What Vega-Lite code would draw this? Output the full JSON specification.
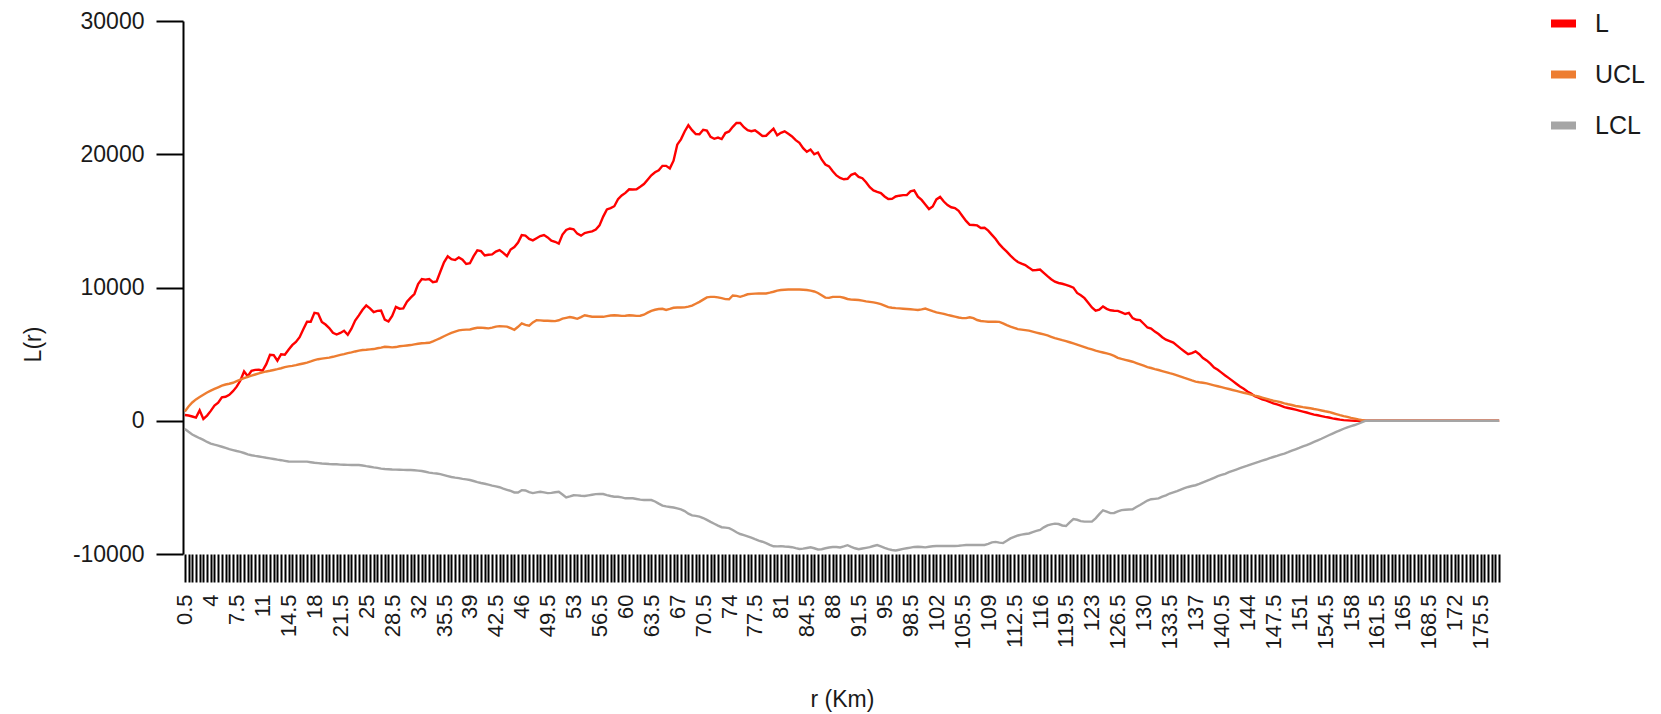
{
"$schema":"https://vega.github.io/schema/vega-lite/v6.json",
"width":1318,"height":533,
"autosize":{"type":"none"},
"padding":{"left":183,"top":21,"right":160,"bottom":160},
"background":"white",
"config":{"view":{"stroke":null},"font":"Liberation Sans"},
"data":{"values":[
{"r":0.5,"L":430,"UCL":700,"LCL":-620},{"r":1,"L":390,"UCL":1070,"LCL":-830},{"r":1.5,"L":320,"UCL":1370,"LCL":-1030},{"r":2,"L":240,"UCL":1600,"LCL":-1170},{"r":2.5,"L":780,"UCL":1780,"LCL":-1310},{"r":3,"L":140,"UCL":1950,"LCL":-1440},{"r":3.5,"L":390,"UCL":2120,"LCL":-1590},{"r":4,"L":740,"UCL":2260,"LCL":-1710},{"r":4.5,"L":1140,"UCL":2390,"LCL":-1790},{"r":5,"L":1350,"UCL":2510,"LCL":-1860},
{"r":5.5,"L":1760,"UCL":2630,"LCL":-1950},{"r":6,"L":1800,"UCL":2720,"LCL":-2040},{"r":6.5,"L":1950,"UCL":2780,"LCL":-2130},{"r":7,"L":2220,"UCL":2850,"LCL":-2200},{"r":7.5,"L":2560,"UCL":2970,"LCL":-2270},{"r":8,"L":3020,"UCL":3080,"LCL":-2330},{"r":8.5,"L":3700,"UCL":3190,"LCL":-2420},{"r":9,"L":3340,"UCL":3290,"LCL":-2520},{"r":9.5,"L":3750,"UCL":3380,"LCL":-2590},{"r":10,"L":3820,"UCL":3470,"LCL":-2640},
{"r":10.5,"L":3830,"UCL":3550,"LCL":-2680},{"r":11,"L":3760,"UCL":3630,"LCL":-2730},{"r":11.5,"L":4250,"UCL":3700,"LCL":-2780},{"r":12,"L":4950,"UCL":3750,"LCL":-2820},{"r":12.5,"L":4930,"UCL":3810,"LCL":-2870},{"r":13,"L":4510,"UCL":3870,"LCL":-2920},{"r":13.5,"L":4990,"UCL":3940,"LCL":-2960},{"r":14,"L":4960,"UCL":4020,"LCL":-3010},{"r":14.5,"L":5330,"UCL":4080,"LCL":-3060},{"r":15,"L":5670,"UCL":4120,"LCL":-3070},
{"r":15.5,"L":5910,"UCL":4170,"LCL":-3070},{"r":16,"L":6270,"UCL":4240,"LCL":-3070},{"r":16.5,"L":6860,"UCL":4300,"LCL":-3070},{"r":17,"L":7430,"UCL":4360,"LCL":-3070},{"r":17.5,"L":7430,"UCL":4450,"LCL":-3110},{"r":18,"L":8100,"UCL":4550,"LCL":-3150},{"r":18.5,"L":8050,"UCL":4620,"LCL":-3180},{"r":19,"L":7410,"UCL":4660,"LCL":-3210},{"r":19.5,"L":7220,"UCL":4700,"LCL":-3230},{"r":20,"L":6960,"UCL":4740,"LCL":-3250},
{"r":20.5,"L":6600,"UCL":4800,"LCL":-3260},{"r":21,"L":6470,"UCL":4870,"LCL":-3270},{"r":21.5,"L":6590,"UCL":4940,"LCL":-3290},{"r":22,"L":6750,"UCL":5000,"LCL":-3300},{"r":22.5,"L":6450,"UCL":5070,"LCL":-3310},{"r":23,"L":6910,"UCL":5130,"LCL":-3320},{"r":23.5,"L":7520,"UCL":5200,"LCL":-3320},{"r":24,"L":7910,"UCL":5260,"LCL":-3320},{"r":24.5,"L":8330,"UCL":5310,"LCL":-3360},{"r":25,"L":8650,"UCL":5330,"LCL":-3410},
{"r":25.5,"L":8440,"UCL":5360,"LCL":-3450},{"r":26,"L":8160,"UCL":5380,"LCL":-3500},{"r":26.5,"L":8250,"UCL":5440,"LCL":-3540},{"r":27,"L":8270,"UCL":5490,"LCL":-3590},{"r":27.5,"L":7590,"UCL":5550,"LCL":-3620},{"r":28,"L":7450,"UCL":5530,"LCL":-3640},{"r":28.5,"L":7870,"UCL":5510,"LCL":-3660},{"r":29,"L":8550,"UCL":5530,"LCL":-3670},{"r":29.5,"L":8410,"UCL":5590,"LCL":-3680},{"r":30,"L":8430,"UCL":5620,"LCL":-3690},
{"r":30.5,"L":8930,"UCL":5650,"LCL":-3700},{"r":31,"L":9240,"UCL":5680,"LCL":-3700},{"r":31.5,"L":9510,"UCL":5730,"LCL":-3720},{"r":32,"L":10260,"UCL":5780,"LCL":-3740},{"r":32.5,"L":10630,"UCL":5820,"LCL":-3770},{"r":33,"L":10590,"UCL":5830,"LCL":-3830},{"r":33.5,"L":10640,"UCL":5850,"LCL":-3890},{"r":34,"L":10400,"UCL":5960,"LCL":-3930},{"r":34.5,"L":10460,"UCL":6080,"LCL":-3960},{"r":35,"L":11180,"UCL":6200,"LCL":-4010},
{"r":35.5,"L":11890,"UCL":6340,"LCL":-4080},{"r":36,"L":12340,"UCL":6470,"LCL":-4150},{"r":36.5,"L":12120,"UCL":6600,"LCL":-4220},{"r":37,"L":12060,"UCL":6690,"LCL":-4270},{"r":37.5,"L":12250,"UCL":6780,"LCL":-4310},{"r":38,"L":12090,"UCL":6820,"LCL":-4360},{"r":38.5,"L":11770,"UCL":6840,"LCL":-4400},{"r":39,"L":11820,"UCL":6850,"LCL":-4450},{"r":39.5,"L":12350,"UCL":6920,"LCL":-4520},{"r":40,"L":12790,"UCL":6980,"LCL":-4600},
{"r":40.5,"L":12730,"UCL":6990,"LCL":-4670},{"r":41,"L":12400,"UCL":6960,"LCL":-4730},{"r":41.5,"L":12460,"UCL":6930,"LCL":-4800},{"r":42,"L":12480,"UCL":6990,"LCL":-4870},{"r":42.5,"L":12700,"UCL":7060,"LCL":-4930},{"r":43,"L":12810,"UCL":7100,"LCL":-4990},{"r":43.5,"L":12600,"UCL":7080,"LCL":-5090},{"r":44,"L":12350,"UCL":7060,"LCL":-5180},{"r":44.5,"L":12850,"UCL":6950,"LCL":-5270},{"r":45,"L":13030,"UCL":6830,"LCL":-5380},
{"r":45.5,"L":13370,"UCL":7050,"LCL":-5380},{"r":46,"L":13930,"UCL":7300,"LCL":-5210},{"r":46.5,"L":13900,"UCL":7200,"LCL":-5230},{"r":47,"L":13650,"UCL":7140,"LCL":-5360},{"r":47.5,"L":13540,"UCL":7380,"LCL":-5430},{"r":48,"L":13700,"UCL":7550,"LCL":-5380},{"r":48.5,"L":13860,"UCL":7530,"LCL":-5330},{"r":49,"L":13940,"UCL":7510,"LCL":-5380},{"r":49.5,"L":13760,"UCL":7500,"LCL":-5430},{"r":50,"L":13520,"UCL":7490,"LCL":-5410},
{"r":50.5,"L":13430,"UCL":7480,"LCL":-5370},{"r":51,"L":13290,"UCL":7540,"LCL":-5330},{"r":51.5,"L":13970,"UCL":7660,"LCL":-5540},{"r":52,"L":14320,"UCL":7720,"LCL":-5760},{"r":52.5,"L":14430,"UCL":7780,"LCL":-5680},{"r":53,"L":14370,"UCL":7730,"LCL":-5590},{"r":53.5,"L":14040,"UCL":7650,"LCL":-5600},{"r":54,"L":13890,"UCL":7780,"LCL":-5630},{"r":54.5,"L":14090,"UCL":7920,"LCL":-5650},{"r":55,"L":14150,"UCL":7860,"LCL":-5600},
{"r":55.5,"L":14210,"UCL":7810,"LCL":-5550},{"r":56,"L":14350,"UCL":7800,"LCL":-5510},{"r":56.5,"L":14660,"UCL":7800,"LCL":-5500},{"r":57,"L":15320,"UCL":7800,"LCL":-5500},{"r":57.5,"L":15860,"UCL":7850,"LCL":-5580},{"r":58,"L":15960,"UCL":7900,"LCL":-5650},{"r":58.5,"L":16100,"UCL":7920,"LCL":-5700},{"r":59,"L":16620,"UCL":7900,"LCL":-5700},{"r":59.5,"L":16910,"UCL":7870,"LCL":-5750},{"r":60,"L":17100,"UCL":7880,"LCL":-5820},
{"r":60.5,"L":17370,"UCL":7920,"LCL":-5820},{"r":61,"L":17350,"UCL":7900,"LCL":-5820},{"r":61.5,"L":17370,"UCL":7870,"LCL":-5870},{"r":62,"L":17560,"UCL":7880,"LCL":-5920},{"r":62.5,"L":17760,"UCL":7960,"LCL":-5950},{"r":63,"L":18090,"UCL":8110,"LCL":-5950},{"r":63.5,"L":18420,"UCL":8250,"LCL":-5950},{"r":64,"L":18650,"UCL":8330,"LCL":-6060},{"r":64.5,"L":18790,"UCL":8390,"LCL":-6220},{"r":65,"L":19130,"UCL":8400,"LCL":-6370},
{"r":65.5,"L":19130,"UCL":8320,"LCL":-6430},{"r":66,"L":18940,"UCL":8390,"LCL":-6470},{"r":66.5,"L":19520,"UCL":8480,"LCL":-6510},{"r":67,"L":20720,"UCL":8500,"LCL":-6580},{"r":67.5,"L":21120,"UCL":8500,"LCL":-6650},{"r":68,"L":21710,"UCL":8510,"LCL":-6780},{"r":68.5,"L":22180,"UCL":8560,"LCL":-6970},{"r":69,"L":21810,"UCL":8640,"LCL":-7100},{"r":69.5,"L":21510,"UCL":8780,"LCL":-7140},{"r":70,"L":21500,"UCL":8920,"LCL":-7190},
{"r":70.5,"L":21840,"UCL":9090,"LCL":-7300},{"r":71,"L":21770,"UCL":9260,"LCL":-7440},{"r":71.5,"L":21300,"UCL":9300,"LCL":-7590},{"r":72,"L":21160,"UCL":9300,"LCL":-7730},{"r":72.5,"L":21250,"UCL":9260,"LCL":-7870},{"r":73,"L":21140,"UCL":9200,"LCL":-7990},{"r":73.5,"L":21590,"UCL":9130,"LCL":-8020},{"r":74,"L":21710,"UCL":9120,"LCL":-8060},{"r":74.5,"L":22060,"UCL":9400,"LCL":-8200},{"r":75,"L":22350,"UCL":9370,"LCL":-8370},
{"r":75.5,"L":22350,"UCL":9300,"LCL":-8500},{"r":76,"L":22030,"UCL":9390,"LCL":-8590},{"r":76.5,"L":21800,"UCL":9490,"LCL":-8680},{"r":77,"L":21730,"UCL":9520,"LCL":-8780},{"r":77.5,"L":21800,"UCL":9540,"LCL":-8890},{"r":78,"L":21590,"UCL":9550,"LCL":-8990},{"r":78.5,"L":21370,"UCL":9550,"LCL":-9080},{"r":79,"L":21390,"UCL":9550,"LCL":-9180},{"r":79.5,"L":21660,"UCL":9610,"LCL":-9310},{"r":80,"L":21920,"UCL":9680,"LCL":-9420},
{"r":80.5,"L":21420,"UCL":9770,"LCL":-9430},{"r":81,"L":21610,"UCL":9810,"LCL":-9410},{"r":81.5,"L":21720,"UCL":9830,"LCL":-9440},{"r":82,"L":21530,"UCL":9850,"LCL":-9460},{"r":82.5,"L":21340,"UCL":9850,"LCL":-9490},{"r":83,"L":21060,"UCL":9850,"LCL":-9560},{"r":83.5,"L":20860,"UCL":9850,"LCL":-9620},{"r":84,"L":20460,"UCL":9830,"LCL":-9600},{"r":84.5,"L":20180,"UCL":9810,"LCL":-9550},{"r":85,"L":20350,"UCL":9770,"LCL":-9500},
{"r":85.5,"L":20000,"UCL":9700,"LCL":-9570},{"r":86,"L":20130,"UCL":9590,"LCL":-9660},{"r":86.5,"L":19610,"UCL":9420,"LCL":-9640},{"r":87,"L":19230,"UCL":9240,"LCL":-9570},{"r":87.5,"L":19090,"UCL":9220,"LCL":-9510},{"r":88,"L":18720,"UCL":9300,"LCL":-9480},{"r":88.5,"L":18410,"UCL":9300,"LCL":-9470},{"r":89,"L":18220,"UCL":9300,"LCL":-9510},{"r":89.5,"L":18120,"UCL":9230,"LCL":-9430},{"r":90,"L":18160,"UCL":9140,"LCL":-9340},
{"r":90.5,"L":18460,"UCL":9090,"LCL":-9460},{"r":91,"L":18570,"UCL":9080,"LCL":-9570},{"r":91.5,"L":18300,"UCL":9060,"LCL":-9640},{"r":92,"L":18200,"UCL":9010,"LCL":-9590},{"r":92.5,"L":17900,"UCL":8960,"LCL":-9540},{"r":93,"L":17530,"UCL":8920,"LCL":-9490},{"r":93.5,"L":17290,"UCL":8880,"LCL":-9400},{"r":94,"L":17180,"UCL":8830,"LCL":-9330},{"r":94.5,"L":17090,"UCL":8750,"LCL":-9430},{"r":95,"L":16830,"UCL":8640,"LCL":-9540},
{"r":95.5,"L":16640,"UCL":8530,"LCL":-9640},{"r":96,"L":16650,"UCL":8480,"LCL":-9700},{"r":96.5,"L":16830,"UCL":8450,"LCL":-9740},{"r":97,"L":16890,"UCL":8430,"LCL":-9680},{"r":97.5,"L":16930,"UCL":8410,"LCL":-9620},{"r":98,"L":16930,"UCL":8390,"LCL":-9570},{"r":98.5,"L":17210,"UCL":8370,"LCL":-9520},{"r":99,"L":17290,"UCL":8340,"LCL":-9470},{"r":99.5,"L":16820,"UCL":8310,"LCL":-9460},{"r":100,"L":16570,"UCL":8360,"LCL":-9480},
{"r":100.5,"L":16230,"UCL":8420,"LCL":-9500},{"r":101,"L":15890,"UCL":8320,"LCL":-9460},{"r":101.5,"L":16080,"UCL":8220,"LCL":-9420},{"r":102,"L":16610,"UCL":8130,"LCL":-9400},{"r":102.5,"L":16800,"UCL":8080,"LCL":-9400},{"r":103,"L":16450,"UCL":8020,"LCL":-9400},{"r":103.5,"L":16190,"UCL":7940,"LCL":-9400},{"r":104,"L":16020,"UCL":7880,"LCL":-9400},{"r":104.5,"L":15960,"UCL":7820,"LCL":-9400},{"r":105,"L":15750,"UCL":7750,"LCL":-9380},
{"r":105.5,"L":15370,"UCL":7700,"LCL":-9350},{"r":106,"L":15000,"UCL":7700,"LCL":-9320},{"r":106.5,"L":14710,"UCL":7770,"LCL":-9330},{"r":107,"L":14690,"UCL":7700,"LCL":-9320},{"r":107.5,"L":14660,"UCL":7560,"LCL":-9320},{"r":108,"L":14470,"UCL":7490,"LCL":-9320},{"r":108.5,"L":14480,"UCL":7460,"LCL":-9320},{"r":109,"L":14270,"UCL":7430,"LCL":-9240},{"r":109.5,"L":13950,"UCL":7430,"LCL":-9130},{"r":110,"L":13640,"UCL":7430,"LCL":-9090},
{"r":110.5,"L":13250,"UCL":7420,"LCL":-9150},{"r":111,"L":12960,"UCL":7310,"LCL":-9180},{"r":111.5,"L":12690,"UCL":7180,"LCL":-9010},{"r":112,"L":12390,"UCL":7060,"LCL":-8830},{"r":112.5,"L":12130,"UCL":6970,"LCL":-8720},{"r":113,"L":11910,"UCL":6880,"LCL":-8610},{"r":113.5,"L":11790,"UCL":6840,"LCL":-8550},{"r":114,"L":11680,"UCL":6800,"LCL":-8500},{"r":114.5,"L":11490,"UCL":6760,"LCL":-8460},{"r":115,"L":11290,"UCL":6690,"LCL":-8360},
{"r":115.5,"L":11310,"UCL":6620,"LCL":-8270},{"r":116,"L":11350,"UCL":6550,"LCL":-8190},{"r":116.5,"L":11100,"UCL":6480,"LCL":-8000},{"r":117,"L":10850,"UCL":6400,"LCL":-7850},{"r":117.5,"L":10620,"UCL":6300,"LCL":-7780},{"r":118,"L":10440,"UCL":6200,"LCL":-7720},{"r":118.5,"L":10340,"UCL":6130,"LCL":-7750},{"r":119,"L":10280,"UCL":6050,"LCL":-7860},{"r":119.5,"L":10200,"UCL":5980,"LCL":-7900},{"r":120,"L":10100,"UCL":5890,"LCL":-7620},
{"r":120.5,"L":9990,"UCL":5800,"LCL":-7380},{"r":121,"L":9590,"UCL":5710,"LCL":-7430},{"r":121.5,"L":9420,"UCL":5620,"LCL":-7530},{"r":122,"L":9200,"UCL":5530,"LCL":-7570},{"r":122.5,"L":8850,"UCL":5430,"LCL":-7570},{"r":123,"L":8500,"UCL":5350,"LCL":-7570},{"r":123.5,"L":8260,"UCL":5260,"LCL":-7320},{"r":124,"L":8340,"UCL":5190,"LCL":-7010},{"r":124.5,"L":8580,"UCL":5120,"LCL":-6720},{"r":125,"L":8400,"UCL":5050,"LCL":-6820},
{"r":125.5,"L":8290,"UCL":4980,"LCL":-6930},{"r":126,"L":8260,"UCL":4870,"LCL":-6920},{"r":126.5,"L":8250,"UCL":4720,"LCL":-6810},{"r":127,"L":8130,"UCL":4640,"LCL":-6710},{"r":127.5,"L":8010,"UCL":4570,"LCL":-6680},{"r":128,"L":8090,"UCL":4500,"LCL":-6660},{"r":128.5,"L":7700,"UCL":4430,"LCL":-6640},{"r":129,"L":7580,"UCL":4330,"LCL":-6470},{"r":129.5,"L":7550,"UCL":4230,"LCL":-6320},{"r":130,"L":7280,"UCL":4130,"LCL":-6160},
{"r":130.5,"L":7000,"UCL":4030,"LCL":-5990},{"r":131,"L":6920,"UCL":3960,"LCL":-5890},{"r":131.5,"L":6690,"UCL":3880,"LCL":-5860},{"r":132,"L":6510,"UCL":3810,"LCL":-5830},{"r":132.5,"L":6270,"UCL":3730,"LCL":-5700},{"r":133,"L":6080,"UCL":3650,"LCL":-5600},{"r":133.5,"L":5970,"UCL":3570,"LCL":-5460},{"r":134,"L":5860,"UCL":3500,"LCL":-5370},{"r":134.5,"L":5640,"UCL":3410,"LCL":-5280},{"r":135,"L":5410,"UCL":3320,"LCL":-5170},
{"r":135.5,"L":5200,"UCL":3220,"LCL":-5060},{"r":136,"L":4990,"UCL":3130,"LCL":-4970},{"r":136.5,"L":5080,"UCL":3030,"LCL":-4900},{"r":137,"L":5210,"UCL":2940,"LCL":-4840},{"r":137.5,"L":4990,"UCL":2890,"LCL":-4740},{"r":138,"L":4710,"UCL":2850,"LCL":-4620},{"r":138.5,"L":4530,"UCL":2800,"LCL":-4510},{"r":139,"L":4280,"UCL":2730,"LCL":-4400},{"r":139.5,"L":3990,"UCL":2660,"LCL":-4280},{"r":140,"L":3820,"UCL":2590,"LCL":-4160},
{"r":140.5,"L":3610,"UCL":2520,"LCL":-4070},{"r":141,"L":3400,"UCL":2450,"LCL":-3980},{"r":141.5,"L":3200,"UCL":2380,"LCL":-3860},{"r":142,"L":2990,"UCL":2310,"LCL":-3760},{"r":142.5,"L":2780,"UCL":2240,"LCL":-3660},{"r":143,"L":2570,"UCL":2170,"LCL":-3560},{"r":143.5,"L":2400,"UCL":2100,"LCL":-3460},{"r":144,"L":2200,"UCL":2030,"LCL":-3370},{"r":144.5,"L":2050,"UCL":1960,"LCL":-3270},{"r":145,"L":1850,"UCL":1880,"LCL":-3180},
{"r":145.5,"L":1740,"UCL":1820,"LCL":-3090},{"r":146,"L":1610,"UCL":1740,"LCL":-2990},{"r":146.5,"L":1530,"UCL":1660,"LCL":-2910},{"r":147,"L":1420,"UCL":1580,"LCL":-2810},{"r":147.5,"L":1310,"UCL":1500,"LCL":-2720},{"r":148,"L":1230,"UCL":1450,"LCL":-2640},{"r":148.5,"L":1140,"UCL":1390,"LCL":-2550},{"r":149,"L":1020,"UCL":1310,"LCL":-2460},{"r":149.5,"L":960,"UCL":1240,"LCL":-2360},{"r":150,"L":900,"UCL":1180,"LCL":-2250},
{"r":150.5,"L":830,"UCL":1110,"LCL":-2140},{"r":151,"L":760,"UCL":1070,"LCL":-2040},{"r":151.5,"L":690,"UCL":1020,"LCL":-1930},{"r":152,"L":620,"UCL":980,"LCL":-1830},{"r":152.5,"L":540,"UCL":940,"LCL":-1710},{"r":153,"L":460,"UCL":880,"LCL":-1590},{"r":153.5,"L":410,"UCL":830,"LCL":-1470},{"r":154,"L":350,"UCL":770,"LCL":-1350},{"r":154.5,"L":290,"UCL":710,"LCL":-1220},{"r":155,"L":240,"UCL":660,"LCL":-1090},
{"r":155.5,"L":180,"UCL":580,"LCL":-960},{"r":156,"L":130,"UCL":500,"LCL":-840},{"r":156.5,"L":80,"UCL":420,"LCL":-720},{"r":157,"L":50,"UCL":350,"LCL":-600},{"r":157.5,"L":30,"UCL":290,"LCL":-490},{"r":158,"L":10,"UCL":220,"LCL":-400},{"r":158.5,"L":0,"UCL":160,"LCL":-320},{"r":159,"L":0,"UCL":100,"LCL":-220},{"r":159.5,"L":0,"UCL":50,"LCL":-110},{"r":160,"L":0,"UCL":0,"LCL":0},
{"r":160.5,"L":0,"UCL":0,"LCL":0},{"r":161,"L":0,"UCL":0,"LCL":0},{"r":161.5,"L":0,"UCL":0,"LCL":0},{"r":162,"L":0,"UCL":0,"LCL":0},{"r":162.5,"L":0,"UCL":0,"LCL":0},{"r":163,"L":0,"UCL":0,"LCL":0},{"r":163.5,"L":0,"UCL":0,"LCL":0},{"r":164,"L":0,"UCL":0,"LCL":0},{"r":164.5,"L":0,"UCL":0,"LCL":0},{"r":165,"L":0,"UCL":0,"LCL":0},
{"r":165.5,"L":0,"UCL":0,"LCL":0},{"r":166,"L":0,"UCL":0,"LCL":0},{"r":166.5,"L":0,"UCL":0,"LCL":0},{"r":167,"L":0,"UCL":0,"LCL":0},{"r":167.5,"L":0,"UCL":0,"LCL":0},{"r":168,"L":0,"UCL":0,"LCL":0},{"r":168.5,"L":0,"UCL":0,"LCL":0},{"r":169,"L":0,"UCL":0,"LCL":0},{"r":169.5,"L":0,"UCL":0,"LCL":0},{"r":170,"L":0,"UCL":0,"LCL":0},
{"r":170.5,"L":0,"UCL":0,"LCL":0},{"r":171,"L":0,"UCL":0,"LCL":0},{"r":171.5,"L":0,"UCL":0,"LCL":0},{"r":172,"L":0,"UCL":0,"LCL":0},{"r":172.5,"L":0,"UCL":0,"LCL":0},{"r":173,"L":0,"UCL":0,"LCL":0},{"r":173.5,"L":0,"UCL":0,"LCL":0},{"r":174,"L":0,"UCL":0,"LCL":0},{"r":174.5,"L":0,"UCL":0,"LCL":0},{"r":175,"L":0,"UCL":0,"LCL":0},
{"r":175.5,"L":0,"UCL":0,"LCL":0},{"r":176,"L":0,"UCL":0,"LCL":0},{"r":176.5,"L":0,"UCL":0,"LCL":0},{"r":177,"L":0,"UCL":0,"LCL":0},{"r":177.5,"L":0,"UCL":0,"LCL":0},{"r":178,"L":0,"UCL":0,"LCL":0}
]},
"transform":[{"fold":["L","UCL","LCL"],"as":["series","value"]}],
"mark":{"type":"line","strokeWidth":2.4,"interpolate":"linear"},
"encoding":{
"x":{"field":"r","type":"ordinal","sort":"ascending","scale":{"type":"point","padding":0.5},
"axis":{"title":"r (Km)","labelAngle":-90,"labelAlign":"right","labelBaseline":"middle","labelExpr":"((datum.value*2-1) % 7 === 0) ? ('' + datum.value) : ''","labelOverlap":false,"labelBound":false,"domain":false,"tickSize":28,"tickWidth":2,"tickColor":"#000000","labelPadding":12,"labelFontSize":22,"labelFont":"Liberation Sans","labelColor":"#1a1a1a","titleFontSize":23,"titleFont":"Liberation Sans","titleFontWeight":"normal","titleColor":"#1a1a1a","titleY":145,"titleBaseline":"middle"}},
"y":{"field":"value","type":"quantitative","scale":{"domain":[-10000,30000],"nice":false,"zero":false},
"axis":{"values":[-10000,0,10000,20000,30000],"labelExpr":"'' + datum.value","title":"L(r)","grid":false,"domainColor":"#000000","domainWidth":2,"tickColor":"#000000","tickWidth":2,"tickSize":27,"labelPadding":12,"labelFontSize":23,"labelFont":"Liberation Sans","labelColor":"#1a1a1a","titleFontSize":23,"titleFont":"Liberation Sans","titleFontWeight":"normal","titleColor":"#1a1a1a","titleX":-150,"titleY":323,"titleAlign":"center","titleBaseline":"middle","titleAngle":270}},
"color":{"field":"series","type":"nominal","scale":{"domain":["L","UCL","LCL"],"range":["#ff0000","#ed7d31","#a5a5a5"]},
"legend":{"title":null,"orient":"none","legendX":1364,"legendY":-14,"padding":0,"symbolType":"stroke","symbolStrokeWidth":8,"symbolSize":625,"labelFontSize":25,"labelFont":"Liberation Sans","labelColor":"#1a1a1a","labelOffset":15,"rowPadding":18}}
}
}
